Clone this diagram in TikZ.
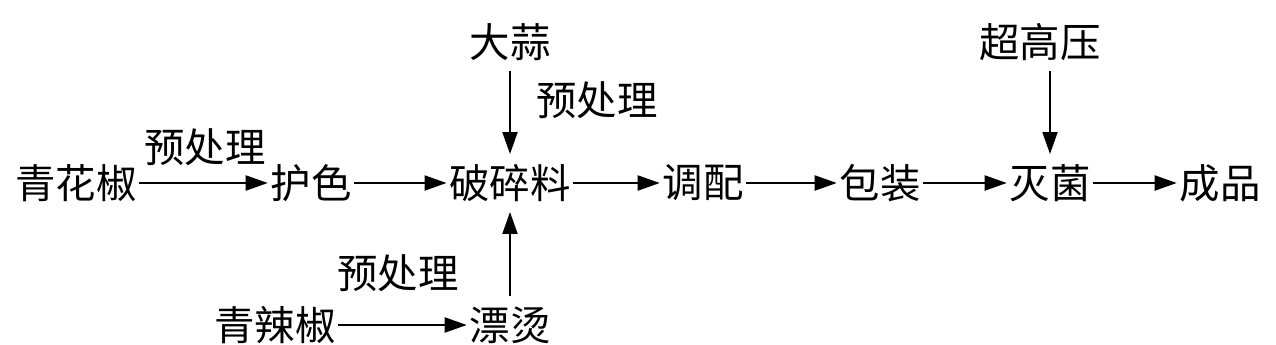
\documentclass[tikz,border=0pt]{standalone}
\usepackage{fontspec}
\newfontfamily\cjk{Noto Sans CJK SC}
\usetikzlibrary{positioning, arrows.meta}

\begin{document}
\begin{tikzpicture}[
        proc/.style={font=\cjk\fontsize{23}{28}\selectfont, inner xsep=0.05cm,
                     inner ysep=0.2cm},
        lab/.style={font=\cjk\fontsize{23}{28}\selectfont, inner sep=0pt},
        flow/.style={-{Triangle[length=0.44cm, width=0.3cm]}, line width=1.1pt}
    ]
    \useasboundingbox (0, 0) rectangle (25.52, -6.9);

    % main line
    \node[proc] (qhj) at (1.52, -3.66) {青花椒};
    \node[proc] (hs)  at (6.22, -3.66) {护色};
    \node[proc] (psl) at (10.2, -3.66) {破碎料};
    \node[proc] (tp)  at (14.06, -3.66) {调配};
    \node[proc] (bz)  at (17.6, -3.66) {包装};
    \node[proc] (mj)  at (21.0, -3.66) {灭菌};
    \node[proc] (cp)  at (24.4, -3.66) {成品};

    % side inputs
    \node[proc] (ds)  at (10.2, -0.84) {大蒜};
    \node[proc] (cgy) at (20.8, -0.84) {超高压};
    \node[proc] (qlj) at (5.5, -6.5) {青辣椒};
    \node[proc] (pt)  at (10.2, -6.5) {漂烫};

    \node[lab] (yc1) at (4.1, -2.94) {预处理};
    \node[lab] (yc2) at (11.94, -2.0) {预处理};
    \node[lab] (yc3) at (7.96, -5.46) {预处理};

    \draw[flow] (qhj) -- (hs);
    \draw[flow] (hs) -- (psl);
    \draw[flow] (psl) -- (tp);
    \draw[flow] (tp) -- (bz);
    \draw[flow] (bz) -- (mj);
    \draw[flow] (mj) -- (cp);
    \draw[flow] (ds) -- (psl);
    \draw[flow] (pt) -- (psl);
    \draw[flow] (qlj) -- (pt);
    \draw[flow] (cgy.south -| mj.north) -- (mj);

\end{tikzpicture}
\end{document}
